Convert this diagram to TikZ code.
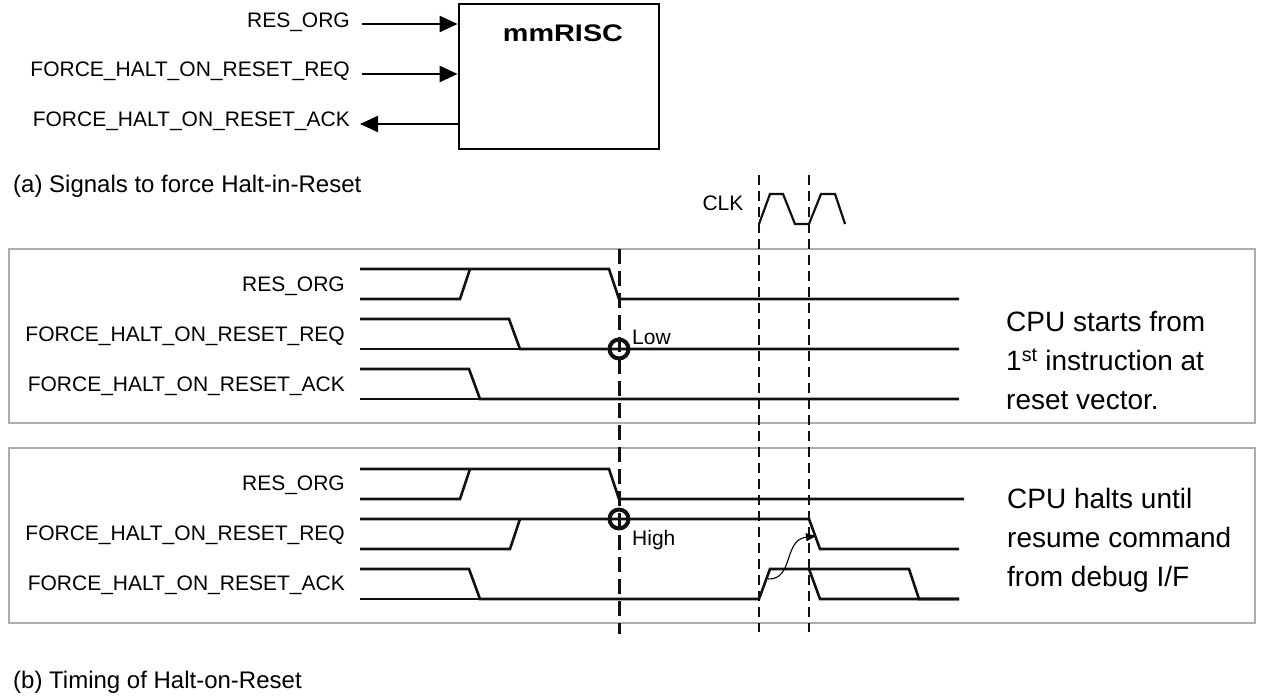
\documentclass[tikz,border=0pt]{standalone}
\usepackage{fontspec}
\setmainfont{Liberation Sans}
\usepackage{graphicx}
\usetikzlibrary{arrows.meta,positioning}
\definecolor{cpanel}{HTML}{ADADAD}
\definecolor{csig}{HTML}{111111}
\tikzset{
  sig/.style={line width=2.6pt, draw=csig, line join=miter},
  clkw/.style={line width=2.2pt, draw=csig},
  panel/.style={draw=cpanel, line width=2pt},
  port/.style={-{Triangle[length=18pt,width=16pt]}, line width=2.2pt},
  cpubox/.style={draw, line width=2.8pt, minimum width=200pt, minimum height=145pt, inner sep=0pt},
  lbl/.style={font=\fontsize{21}{25}\selectfont, inner sep=0pt},
  siglbl/.style={lbl, anchor=east},
  captxt/.style={font=\fontsize{24}{28}\selectfont, inner sep=0pt, anchor=west},
  note/.style={font=\fontsize{28}{39}\selectfont, inner sep=0pt, anchor=west, align=left},
  ring/.style={circle, draw=csig, line width=4pt, minimum size=19pt, inner sep=0pt},
  strobe/.style={line width=3pt, draw=csig, dash pattern=on 15pt off 7pt},
  guide/.style={line width=1.5pt, draw=csig, dash pattern=on 10pt off 6pt},
  cause/.style={-{Triangle[length=10pt,width=8pt]}, line width=1.1pt},
}
\begin{document}
\begin{tikzpicture}[x=1pt,y=-1pt]
\useasboundingbox (0,0) rectangle (1261,700);
% ---------------- (a) signals of the core
\node[cpubox] (cpu) at (559,76.5) {};
\node[font=\fontsize{24}{28}\selectfont\bfseries, inner sep=0pt] (cpuname) at (563,33) {\scalebox{1.2}[1]{mmRISC}};
\node[siglbl] (lres) at (350,22) {RES\_ORG};
\node[siglbl] (lreq) at (350,71) {FORCE\_HALT\_ON\_RESET\_REQ};
\node[siglbl] (lack) at (350,121) {FORCE\_HALT\_ON\_RESET\_ACK};
\coordinate (tres) at (362,24);
\coordinate (treq) at (362,74);
\coordinate (tack) at (360,124);
\draw[port] (tres) -- (cpu.west |- tres);
\draw[port] (treq) -- (cpu.west |- treq);
\draw[port] (cpu.west |- tack) -- (tack);
\node[captxt] (capa) at (13,186) {(a) Signals to force Halt-in-Reset};
% ---------------- clock
\node[lbl] (clk) at (723,203) {CLK};
\draw[clkw] (759,224) -- (770,194) -- (783,194) -- (795,224) -- (809,224) -- (821,194) -- (835,194) -- (845,224);
% ---------------- (b) upper panel: no halt
\draw[panel] (9,249) rectangle (1255,423);
\foreach \t/\y [count=\i] in {RES\_ORG/286,FORCE\_HALT\_ON\_RESET\_REQ/336,FORCE\_HALT\_ON\_RESET\_ACK/386}
  \node[siglbl] (pa\i) at (345,\y) {\t};
\draw[sig] (360,269) -- (609,269) -- (619,299) -- (959,299);
\draw[sig] (360,299) -- (460,299) -- (470,269);
\draw[sig] (360,319) -- (509,319) -- (520,349) -- (959,349);
\draw[sig] (360,349) -- (520,349);
\draw[sig] (360,369) -- (469,369) -- (480,399) -- (959,399);
\draw[sig] (360,399) -- (480,399);
\node[note] (notea) at (1006,361) {CPU starts from\\1\textsuperscript{st} instruction at\\reset vector.};
% ---------------- (b) lower panel: halt on reset
\draw[panel] (9,448) rectangle (1255,623);
\foreach \t/\y [count=\i] in {RES\_ORG/485,FORCE\_HALT\_ON\_RESET\_REQ/535,FORCE\_HALT\_ON\_RESET\_ACK/585}
  \node[siglbl] (pb\i) at (345,\y) {\t};
\draw[sig] (360,469) -- (609,469) -- (619,499) -- (964,499);
\draw[sig] (360,499) -- (460,499) -- (470,469);
\draw[sig] (360,519) -- (809,519) -- (820,549) -- (959,549);
\draw[sig] (360,549) -- (510,549) -- (520,519);
\draw[sig] (360,569) -- (469,569) -- (480,599) -- (759,599) -- (770,569) -- (909,569) -- (919,599) -- (959,599);
\draw[sig] (360,599) -- (480,599);
\draw[sig] (809,569) -- (820,599) -- (959,599);
\node[note] (noteb) at (1007,540) {CPU halts until\\resume command\\from debug I/F};
% ---------------- reset release and clock edges
\coordinate (rtop) at (619,249);
\coordinate (rbot) at (619,634);
\draw[strobe] (rtop) -- (rbot);
\foreach \x in {759,809} \draw[guide] (\x,175) -- (\x,632);
\node[ring] (ringa) at (619,349) {};
\node[ring] (ringb) at (619,519) {};
\node[lbl, anchor=base west] (lowlbl) at (632,345) {Low};
\node[lbl, anchor=base west] (highlbl) at (632,545) {High};
\coordinate (ackup) at (768,579);
\coordinate (reqdn) at (816,536);
\draw[cause] (ackup) .. controls (794,580) and (783,540) .. (reqdn);
\node[captxt] (capb) at (13,682) {(b) Timing of Halt-on-Reset};
\end{tikzpicture}
\end{document}
